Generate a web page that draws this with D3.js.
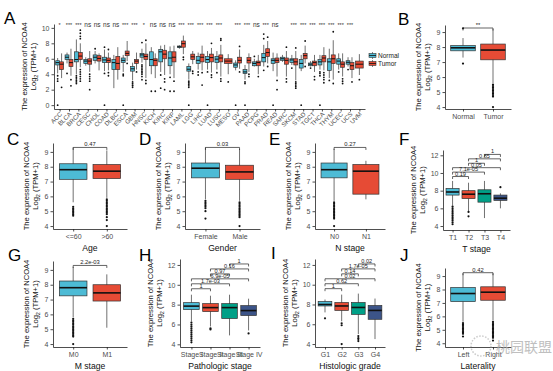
<!DOCTYPE html>
<html lang="en">
<head>
<meta charset="UTF-8">
<title></title>
<style>
    body { margin: 0; background: #fff; }
    svg text { font-family: "Liberation Sans", Arial, sans-serif; }
</style>
</head>
<body>
<script src="https://d3js.org/d3.v7.min.js"></script>
<script>
    // ---- panel A: pan-cancer ----
    var cancers = ["ACC","BLCA","BRCA","CESC","CHOL","COAD","DLBC","ESCA","GBM","HNSC","KICH","KIRC","KIRP","LAML","LGG",
        "LIHC","LUAD","LUSC","MESO","OV","PAAD","PCPG","PRAD","READ","SARC","SKCM","STAD","TGCT","THCA","THYM","UCEC","UCS","UVM"];
    var cancerSig = ["*","***","***","ns","ns","ns","ns","***","***","*","ns","ns","ns","***","***",
        "***","***","***","","***","***","ns","***","ns","","***","***","***","***","***","***","***",""];
    // [lower whisker, q1, median, q3, upper whisker]
    var normalStats = [
        [4.1,5.2,5.5,5.75,6.1],[5.4,5.9,6.2,6.5,6.8],[4.0,5.6,5.9,6.9,8.5],[5.1,5.4,5.7,5.9,6.2],[5.4,5.8,6.2,6.5,7.0],
        [4.4,5.5,5.85,6.2,7.2],[2.2,4.6,5.5,5.9,6.5],[4.3,5.5,5.8,6.1,6.5],[3.2,4.4,4.7,5.0,5.5],[5.5,6.2,6.5,6.7,7.3],
        [4.0,5.1,5.9,6.9,7.5],[4.3,5.6,6.9,7.2,7.7],[4.0,5.1,6.1,6.9,7.6],[7.3,7.45,7.55,7.65,7.75],[3.3,4.4,4.65,5.0,5.4],
        [4.6,5.4,5.8,6.3,6.8],[4.6,5.5,5.9,6.3,7.0],[4.6,5.5,5.95,6.3,7.0],null,[4.5,4.9,5.2,5.45,5.8],
        [3.3,4.1,4.3,4.6,5.2],[5.0,5.1,5.4,5.6,6.0],[5.0,5.6,6.15,6.7,7.8],[4.4,5.4,5.8,6.0,6.8],[5.6,5.8,6.0,6.2,6.5],
        [5.2,5.5,5.85,6.0,6.5],[4.4,4.8,5.4,5.9,6.5],[5.0,5.1,5.3,5.45,5.7],[4.6,5.2,5.6,5.9,6.5],[3.5,4.5,5.6,6.0,7.3],
        [4.6,5.3,5.7,6.0,6.7],[5.0,5.3,5.55,5.75,6.2],null];
    var tumorStats = [
        [3.5,4.6,5.3,5.6,6.7],[3.8,5.0,5.5,5.9,7.3],[4.9,5.9,6.35,6.8,8.0],[4.3,5.3,5.7,6.0,7.0],[4.5,5.7,6.05,6.4,6.7],
        [4.5,5.5,5.8,6.1,6.8],[3.3,4.6,5.4,6.3,7.5],[5.7,6.4,6.7,7.0,8.3],[4.6,5.4,5.7,5.9,6.8],[3.5,5.9,6.3,6.6,8.0],
        [3.5,5.1,5.8,6.0,6.7],[3.9,6.0,6.6,7.1,7.8],[3.5,5.6,6.2,6.9,7.7],[6.6,7.5,7.95,8.3,9.0],[5.3,5.9,6.25,6.6,7.0],
        [4.5,5.6,6.2,6.6,7.7],[4.2,5.6,6.15,6.6,7.4],[3.7,5.6,6.1,6.5,7.8],[4.0,5.4,5.7,6.0,6.6],[4.7,5.45,5.8,6.2,7.2],
        [4.3,5.45,5.8,6.15,6.7],[4.0,5.1,5.5,5.7,6.5],[5.4,6.3,6.8,7.3,8.3],[3.7,5.5,5.8,6.1,6.7],[3.7,5.3,5.8,6.1,7.0],
        [3.2,5.2,5.6,6.0,7.0],[5.4,6.0,6.4,6.7,7.7],[4.3,5.1,5.5,5.7,6.5],[4.5,5.6,6.1,6.4,7.5],[3.3,5.4,6.0,6.5,8.4],
        [3.7,4.9,5.3,5.6,6.7],[3.5,4.6,5.1,5.5,6.2],[3.9,4.8,5.3,5.7,6.6]];
    var normalOut = [
        [3.8,3.4,3.1,0],[4.1],[3.8,3.6,3.4,3.2,3.0,2.8],[],[7.3],[4.1,7.5,0],[],[4.0,3.8,0],[3.0,2.8,2.6,2.5,2.3],
        [5.2,5.0,4.8,4.6,4.4,4.2,4.0,3.7,3.3,8.1],[1.8],[3.9,2.2],[3.6,1.8],[],[3.1,2.9,2.7,2.5,2.3,0],[4.3,3.9],
        [4.3,0],[4.2],[],[0],[3.0,2.8,0],[6.3],[4.5,9.2,8.6],[0],[],[4.8],[0],[4.8],[4.3,4.1,3.8,0],[3.2],[4.3],[4.6],[]];
    var tumorOut = [
        [2.3],[3.3,2.5],[9.7,9.3,8.9,8.6,4.6,4.3,4.0,3.7,3.4,3.1],[4.0,3.7,3.4,3.1,2.0],[],[4.2,3.8,7.2],[],[5.4],[4.3],
        [8.4,3.2,2.8],[1.8],[3.4,3.0,2.0],[3.1,1.8],[6.2,5.9],[4.4,4.1],[4.2,2.6],[3.9,3.6,8.0],[3.4,3.1,8.4,8.6],[3.0],
        [4.3,7.6],[4.0,3.7],[3.7],[5.0,8.8],[3.2,2.0],[3.4,3.0,7.5],[3.0,2.8,2.6,2.4,2.2,7.4],[5.0,8.3],[3.7,3.3],
        [4.2,3.9,3.6,3.3,2.9],[2.8,9.5],[3.4,3.1,2.8],[3.0],[3.3]];

    // ---- panel B ----
    var bGroups = ["Normal","Tumor"];
    var bStats = [[7.3,7.75,7.95,8.1,8.6],[5.6,7.15,7.8,8.2,9.2]];
    var bOut = [[9.25,6.9],[5.5,5.4,5.3,5.2,5.1,5.0,4.9,4.8,4.7,4.0]];
    var bSig = "**";

    // ---- clinical panels ----
    var ageGroups = ["<=60",">60"];
    var ageStats = [[5.6,7.15,7.8,8.2,9.3],[5.9,7.2,7.7,8.15,9.1]];
    var ageOut = [[5.3,5.2,5.1,5.0,4.9,4.8,4.7],[5.8,5.7,5.6,5.5,5.4,5.3,5.2,5.1,5.0,4.9,4.8,4.6,4.4,4.0]];
    var ageP = "0.47";

    var genderGroups = ["Female","Male"];
    var genderStats = [[5.8,7.25,7.9,8.25,9.3],[5.7,7.15,7.65,8.1,9.2]];
    var genderOut = [[5.7,5.6,5.5,5.4,5.3,5.2,5.0,4.5],[5.6,5.5,5.4,5.3,5.2,5.1,5.0,4.9,4.8,4.7,4.6,4.0]];
    var genderP = "0.03";

    var nGroups = ["N0","N1"];
    var nStats = [[5.7,7.25,7.8,8.25,9.2],[5.8,6.15,7.7,8.15,8.4]];
    var nOut = [[5.6,5.5,5.4,5.3,5.2,5.1,5.0,4.9,4.8,4.7,4.6,4.5,4.0],[]];
    var nP = "0.27";

    var tGroups = ["T1","T2","T3","T4"];
    var tStats = [[6.3,7.5,7.85,8.25,9.1],[5.7,7.1,7.6,8.0,8.9],[4.9,6.7,7.65,8.1,9.1],[6.0,6.9,7.15,7.5,7.7]];
    var tOut = [[6.2,6.0,5.8,5.6,5.4,5.2,5.0,4.8,4.6,4.4,4.2],[5.6,5.1],[],[8.4]];
    var tP = ["0.19","7.1e-05","0.05","1","0.85","1"];

    var mGroups = ["M0","M1"];
    var mStats = [[5.8,7.25,7.8,8.25,9.2],[5.1,6.9,7.45,8.0,8.7]];
    var mOut = [[5.7,5.6,5.5,5.4,5.3,5.2,5.1,5.0,4.9,4.8,4.7,4.6,4.5,4.0],[]];
    var mP = "2.2e-03";

    var stageGroups = ["Stage I","Stage II","Stage III","Stage IV"];
    var stageStats = [[6.3,7.5,7.85,8.2,9.0],[5.8,7.3,7.7,8.1,8.9],[4.9,6.6,7.7,8.1,9.0],[5.4,6.9,7.4,7.9,8.6]];
    var stageOut = [[6.2,6.0,5.8,5.6,5.4,5.2,5.0,4.8,4.6,4.4,4.2],[5.6,5.5],[],[5.1]];
    var stageP = ["1","1.7e-03","6.9e-05","0.97","0.16","1"];

    var gradeGroups = ["G1","G2","G3","G4"];
    var gradeStats = [[7.2,7.85,8.0,8.3,8.5],[6.3,7.4,7.85,8.2,9.0],[5.0,7.0,7.7,8.2,9.1],[4.5,6.5,7.4,7.9,8.6]];
    var gradeOut = [[6.6],[6.1,5.9,4.0],[4.8,4.6,4.5,4.3],[]];
    var gradeP = ["1","0.62","0.02","0.14","1.7e-05","0.02"];

    var latGroups = ["Left","Right"];
    var latStats = [[5.6,7.1,7.7,8.15,9.2],[5.7,7.2,7.8,8.2,9.2]];
    var latOut = [[5.5,5.4,5.3,5.2,5.1,5.0,4.9,4.8,4.7,4.5],[5.6,5.5,5.4,5.3,5.2,5.1,5.0,4.9,4.8,4.7,4.6,4.5,4.4,4.2]];
    var latP = "0.42";

    var blue = "#4DBBD5", red = "#E64B35", green = "#00A087", navy = "#3C5488";
    var pairs4 = [[0,1],[0,2],[0,3],[1,2],[1,3],[2,3]];

    var svg = d3.select("body").append("svg").attr("width", 553).attr("height", 371);

    function styleAxis(a) {
        a.attr("font-family", null).attr("font-size", null);
        a.select(".domain").attr("stroke", "#222").attr("stroke-width", 0.8);
        a.selectAll(".tick line").attr("stroke", "#222").attr("stroke-width", 0.8);
        a.selectAll(".tick text").attr("fill", "#4d4d4d").style("font-size", "7px");
    }

    function yTitle(g, xAxis, top, bottom, wide) {
        var mid = (top + bottom) / 2;
        var off = wide ? 3 : 0;
        g.append("text")
            .attr("transform", "translate(" + (xAxis - 24 - off) + "," + mid + ") rotate(-90)")
            .attr("text-anchor", "middle").style("font-size", "7.6px").attr("fill", "#111")
            .text("The expression of NCOA4");
        var t = g.append("text")
            .attr("transform", "translate(" + (xAxis - 15 - off) + "," + mid + ") rotate(-90)")
            .attr("text-anchor", "middle").style("font-size", "7.6px").attr("fill", "#111");
        t.append("tspan").text("Log");
        t.append("tspan").attr("dy", 1.8).style("font-size", "5.5px").text("2");
        t.append("tspan").attr("dy", -1.8).text(" (TPM+1)");
    }

    function drawBox(g, y, cx, w, s, col, outs) {
        if (!s) return;
        g.append("line").attr("x1", cx).attr("x2", cx).attr("y1", y(s[0])).attr("y2", y(s[4]))
            .attr("stroke", "#333").attr("stroke-width", 0.7);
        g.append("rect").attr("x", cx - w / 2).attr("width", w)
            .attr("y", y(s[3])).attr("height", y(s[1]) - y(s[3]))
            .attr("fill", col).attr("stroke", "#333").attr("stroke-width", 0.7);
        g.append("line").attr("x1", cx - w / 2).attr("x2", cx + w / 2).attr("y1", y(s[2])).attr("y2", y(s[2]))
            .attr("stroke", "#111").attr("stroke-width", w > 10 ? 1.6 : 1);
        g.selectAll(null).data(outs || []).enter().append("circle")
            .attr("cx", cx).attr("cy", function(d) { return y(d); })
            .attr("r", w > 10 ? 1.1 : 0.9).attr("fill", "#111");
    }

    function bracket(g, x1, x2, yy, label, fs) {
        g.append("path").attr("d", "M" + x1 + "," + (yy + 2.5) + "V" + yy + "H" + x2 + "V" + (yy + 2.5))
            .attr("fill", "none").attr("stroke", "#222").attr("stroke-width", 0.7);
        g.append("text").attr("x", (x1 + x2) / 2).attr("y", yy - 1).attr("text-anchor", "middle")
            .style("font-size", fs + "px").attr("fill", "#222").text(label);
    }

    function panelLetter(txt, x, y) {
        svg.append("text").attr("x", x).attr("y", y).style("font-size", "17px").attr("fill", "#000").text(txt);
    }

    // generic clinical / B panel
    function boxPanel(o) {
        var g = svg.append("g");
        var x = d3.scalePoint().domain(o.groups).range([o.left, o.right]).padding(0.6);
        var y = d3.scaleLinear().domain(o.domain).range([o.bottom, o.top]);
        var step = x.step();
        o.groups.forEach(function(grp, i) {
            drawBox(g, y, x(grp), step * 0.82, o.stats[i], o.colors[i], o.outs[i]);
        });
        if (typeof o.p === "string") {
            bracket(g, x(o.groups[0]), x(o.groups[1]), y(o.level), o.p, 5.8);
        } else {
            pairs4.forEach(function(pr, k) {
                bracket(g, x(o.groups[pr[0]]), x(o.groups[pr[1]]), y(9.6 + k * 0.5), o.p[k], 5.6);
            });
        }
        var ax = g.append("g").attr("transform", "translate(0," + o.bottom + ")")
            .call(d3.axisBottom(x).tickSize(2.5).tickPadding(2.5).tickSizeOuter(0));
        styleAxis(ax);
        var ay = g.append("g").attr("transform", "translate(" + o.left + ",0)")
            .call(d3.axisLeft(y).tickValues(o.ticks).tickFormat(d3.format("d")).tickSize(2.5).tickPadding(2).tickSizeOuter(0));
        styleAxis(ay);
        yTitle(g, o.left, o.top, o.bottom, o.ticks[o.ticks.length - 1] >= 10);
        if (o.xTitle) {
            g.append("text").attr("x", (o.left + o.right) / 2).attr("y", o.bottom + 22)
                .attr("text-anchor", "middle").style("font-size", "8.6px").attr("fill", "#111").text(o.xTitle);
        }
        panelLetter(o.letter, o.lx, o.ly);
    }

    // ---- draw panel A ----
    (function() {
        var g = svg.append("g");
        var left = 54, right = 365, top = 24, bottom = 109;
        var x = d3.scalePoint().domain(cancers).range([left, right]).padding(0.6);
        var y = d3.scaleLinear().domain([-0.5, 10.5]).range([bottom, top]);
        var step = x.step();
        cancers.forEach(function(c, i) {
            var cx = x(c);
            if (normalStats[i] && tumorStats[i]) {
                drawBox(g, y, cx - step * 0.21, step * 0.42, normalStats[i], blue, normalOut[i]);
                drawBox(g, y, cx + step * 0.21, step * 0.42, tumorStats[i], red, tumorOut[i]);
            } else {
                drawBox(g, y, cx, step * 0.82, tumorStats[i], red, tumorOut[i]);
            }
            g.append("text").attr("x", cx).attr("y", y(10.15)).attr("text-anchor", "middle")
                .style("font-size", cancerSig[i] === "ns" ? "6.5px" : "5.5px").attr("fill", "#333").text(cancerSig[i]);
        });
        var ax = g.append("g").attr("transform", "translate(0," + bottom + ")")
            .call(d3.axisBottom(x).tickSize(2.5).tickSizeOuter(0));
        styleAxis(ax);
        ax.selectAll(".tick text").attr("x", -2.3).attr("y", 3.5).attr("dy", "0.35em")
            .attr("transform", "rotate(-45)").attr("text-anchor", "end").style("font-size", "6.2px");
        var ay = g.append("g").attr("transform", "translate(" + left + ",0)")
            .call(d3.axisLeft(y).tickValues([0, 2, 4, 6, 8, 10]).tickFormat(d3.format("d")).tickSize(2.5).tickPadding(2).tickSizeOuter(0));
        styleAxis(ay);
        yTitle(g, left, top, bottom, true);

        // legend
        var lg = svg.append("g").attr("transform", "translate(369,52)");
        [["Normal", blue], ["Tumor", red]].forEach(function(d, i) {
            var yy = i * 8;
            lg.append("line").attr("x1", 3.5).attr("x2", 3.5).attr("y1", yy).attr("y2", yy + 7)
                .attr("stroke", "#333").attr("stroke-width", 0.6);
            lg.append("rect").attr("x", 0).attr("y", yy + 1.5).attr("width", 7).attr("height", 4)
                .attr("fill", d[1]).attr("stroke", "#333").attr("stroke-width", 0.6);
            lg.append("line").attr("x1", 0).attr("x2", 7).attr("y1", yy + 3.5).attr("y2", yy + 3.5)
                .attr("stroke", "#111").attr("stroke-width", 0.8);
            lg.append("text").attr("x", 9).attr("y", yy + 5.8).style("font-size", "6.5px").attr("fill", "#222").text(d[0]);
        });
        panelLetter("A", 4, 24);
    })();

    boxPanel({ groups: bGroups, stats: bStats, outs: bOut, colors: [blue, red], p: bSig, level: 9.27,
        left: 445, right: 511, top: 25, bottom: 109, domain: [3.87, 9.47], ticks: [4,5,6,7,8,9],
        letter: "B", lx: 398, ly: 25 });
    boxPanel({ groups: ageGroups, stats: ageStats, outs: ageOut, colors: [blue, red], p: ageP, level: 9.3,
        left: 53, right: 127, top: 143, bottom: 229, domain: [3.8, 9.6], ticks: [4,5,6,7,8,9],
        xTitle: "Age", letter: "C", lx: 7, ly: 145 });
    boxPanel({ groups: genderGroups, stats: genderStats, outs: genderOut, colors: [blue, red], p: genderP, level: 9.3,
        left: 185, right: 260, top: 143, bottom: 229, domain: [3.8, 9.6], ticks: [4,5,6,7,8,9],
        xTitle: "Gender", letter: "D", lx: 139, ly: 145 });
    boxPanel({ groups: nGroups, stats: nStats, outs: nOut, colors: [blue, red], p: nP, level: 9.3,
        left: 315, right: 385, top: 143, bottom: 229, domain: [3.8, 9.6], ticks: [4,5,6,7,8,9],
        xTitle: "N stage", letter: "E", lx: 269, ly: 145 });
    boxPanel({ groups: tGroups, stats: tStats, outs: tOut, colors: [blue, red, green, navy], p: tP,
        left: 443, right: 510, top: 150, bottom: 230, domain: [3.55, 12.6], ticks: [4,6,8,10,12],
        xTitle: "T stage", letter: "F", lx: 399, ly: 145 });
    boxPanel({ groups: mGroups, stats: mStats, outs: mOut, colors: [blue, red], p: mP, level: 9.3,
        left: 53, right: 127, top: 261, bottom: 347, domain: [3.8, 9.6], ticks: [4,5,6,7,8,9],
        xTitle: "M stage", letter: "G", lx: 8, ly: 261 });
    boxPanel({ groups: stageGroups, stats: stageStats, outs: stageOut, colors: [blue, red, green, navy], p: stageP,
        left: 180, right: 260, top: 259, bottom: 347, domain: [3.73, 12.6], ticks: [4,6,8,10,12],
        xTitle: "Pathologic stage", letter: "H", lx: 139, ly: 261 });
    boxPanel({ groups: gradeGroups, stats: gradeStats, outs: gradeOut, colors: [blue, red, green, navy], p: gradeP,
        left: 315, right: 385, top: 259, bottom: 347, domain: [3.7, 12.6], ticks: [4,6,8,10,12],
        xTitle: "Histologic grade", letter: "I", lx: 271, ly: 259 });
    boxPanel({ groups: latGroups, stats: latStats, outs: latOut, colors: [blue, red], p: latP, level: 9.25,
        left: 445, right: 511, top: 268, bottom: 347, domain: [3.72, 9.6], ticks: [4,5,6,7,8,9],
        xTitle: "Laterality", letter: "J", lx: 400, ly: 261 });

    // watermark
    var wm = svg.append("g").attr("opacity", 0.75);
    wm.append("circle").attr("cx", 481).attr("cy", 346).attr("r", 10)
        .attr("fill", "none").attr("stroke", "#bbb").attr("stroke-width", 1.5).attr("stroke-dasharray", "1.5,1.5");
    wm.append("text").attr("x", 496).attr("y", 352).style("font-family", "Noto Sans CJK SC")
        .style("font-size", "14px").attr("fill", "#aaa").text("桃园联盟");
</script>
</body>
</html>
